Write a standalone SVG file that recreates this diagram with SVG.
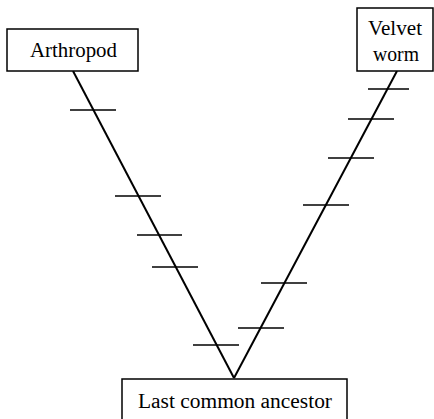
<svg xmlns="http://www.w3.org/2000/svg" width="434" height="419" viewBox="0 0 434 419">
<style>
.box{fill:#fff;stroke:#000;stroke-width:1.5}
.lbl{font-family:"Liberation Serif","Times New Roman",serif;font-size:20px;fill:#000}
.br{stroke:#000;stroke-width:2;fill:none}
.tk{stroke:#000;stroke-width:1.4;fill:none}
</style>
<rect width="434" height="419" fill="#fff"/>
<g id="connectors">
<line class="br" x1="73" y1="71" x2="234" y2="378"/>
<line class="br" x1="397" y1="71" x2="234" y2="378"/>
<line class="tk" x1="70" y1="110" x2="116" y2="110"/>
<line class="tk" x1="115" y1="196" x2="161" y2="196"/>
<line class="tk" x1="137" y1="235" x2="182" y2="235"/>
<line class="tk" x1="152" y1="267" x2="198" y2="267"/>
<line class="tk" x1="193" y1="345" x2="239" y2="345"/>
<line class="tk" x1="368" y1="89" x2="409" y2="89"/>
<line class="tk" x1="348" y1="119" x2="394" y2="119"/>
<line class="tk" x1="328" y1="158" x2="374" y2="158"/>
<line class="tk" x1="303" y1="205" x2="349" y2="205"/>
<line class="tk" x1="261" y1="283" x2="307" y2="283"/>
<line class="tk" x1="238" y1="328" x2="284" y2="328"/>
</g>
<g id="arthropod">
<rect class="box" x="7" y="29" width="131" height="42"/>
<text class="lbl" x="30" y="57" textLength="87" lengthAdjust="spacingAndGlyphs">Arthropod</text>
</g>
<g id="velvet-worm">
<rect class="box" x="357" y="8" width="76" height="63"/>
<text class="lbl" x="368" y="35" textLength="54" lengthAdjust="spacingAndGlyphs">Velvet</text>
<text class="lbl" x="373" y="61" textLength="46" lengthAdjust="spacingAndGlyphs">worm</text>
</g>
<g id="last-common-ancestor">
<rect class="box" x="122" y="379" width="225" height="50"/>
<text class="lbl" x="138" y="408" textLength="194" lengthAdjust="spacingAndGlyphs">Last common ancestor</text>
</g>
</svg>
